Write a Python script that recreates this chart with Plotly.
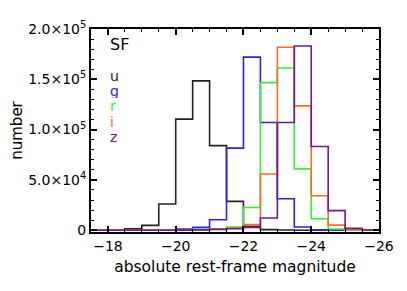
import plotly.graph_objects as go

# bin edges (absolute rest-frame magnitude), 0.5 mag bins
bin_edges = [-17.5, -18.0, -18.5, -19.0, -19.5, -20.0, -20.5, -21.0, -21.5,
             -22.0, -22.5, -23.0, -23.5, -24.0, -24.5, -25.0, -25.5, -26.0]

u_counts = [0, 500, 1500, 4800, 26000, 110400, 148400, 84100, 28600,
            3800, 600, 200, 0, 0, 0, 0, 0]
g_counts = [0, 0, 0, 100, 300, 1200, 2800, 10400, 81600,
            172000, 107000, 31300, 3200, 300, 0, 0, 0]
r_counts = [0, 0, 0, 0, 100, 300, 800, 1200, 3000,
            22600, 146700, 161300, 61000, 11400, 1200, 100, 0]
i_counts = [0, 0, 0, 0, 0, 200, 500, 1000, 2200,
            5500, 55800, 181800, 123600, 34200, 5000, 500, 0]
z_counts = [0, 0, 0, 0, 0, 100, 300, 800, 1500,
            2800, 12100, 107000, 183100, 83200, 19400, 1800, 200]

bands = ["u", "g", "r", "i", "z"]
series = [u_counts, g_counts, r_counts, i_counts, z_counts]
colors = ["#222222", "#2b22e6", "#33f033", "#ff6a22", "#6a1a8a"]

y_tickvals = [0, 50000, 100000, 150000, 200000]
y_ticktext = ["0", "5.0×10<sup>4</sup>", "1.0×10<sup>5</sup>",
              "1.5×10<sup>5</sup>", "2.0×10<sup>5</sup>"]
x_tickvals = [-18, -20, -22, -24, -26]

FONT = "DejaVu Sans"

fig = go.Figure()
for band, counts, col in zip(bands, series, colors):
    fig.add_trace(go.Scatter(
        x=bin_edges, y=counts + [counts[-1]],
        mode="lines", line=dict(shape="hv", color=col, width=1.6),
        name=band, showlegend=False, hoverinfo="skip"))

# legend-like labels
fig.add_annotation(x=0.058, y=0.925, xref="paper", yref="paper", text="SF",
                   showarrow=False, xanchor="left", yanchor="middle",
                   font=dict(family=FONT, size=16, color="black"))
label_y = [0.772, 0.696, 0.621, 0.546, 0.470]
for band, col, yy in zip(bands, colors, label_y):
    fig.add_annotation(x=0.058, y=yy, xref="paper", yref="paper", text=band,
                       showarrow=False, xanchor="left", yanchor="middle",
                       height=15,
                       font=dict(family=FONT, size=14, color=col))

axis_common = dict(showline=True, linecolor="black", linewidth=2,
                   mirror="allticks", ticks="inside", tickcolor="black",
                   ticklen=6, tickwidth=1.5, showgrid=False, zeroline=False,
                   automargin=False,
                   tickfont=dict(family=FONT, size=14, color="black"))

fig.update_xaxes(range=[-17.5, -26], tickvals=x_tickvals,
                 minor=dict(ticks="inside", dtick=0.5, tick0=-18, ticklen=3,
                            tickcolor="black", tickwidth=1.2, showgrid=False),
                 title=dict(text="absolute rest-frame magnitude",
                            font=dict(family=FONT, size=15.5, color="black"),
                            standoff=8),
                 **axis_common)
fig.update_yaxes(range=[-1800, 200000], tickvals=y_tickvals, ticktext=y_ticktext,
                 minor=dict(ticks="inside", dtick=10000, tick0=0, ticklen=3,
                            tickcolor="black", tickwidth=1.2, showgrid=False),
                 title=dict(text="number",
                            font=dict(family=FONT, size=15, color="black"),
                            standoff=12),
                 **axis_common)

# page body has an 8px margin, so the figure is sized to fit the 407x291 window
fig.update_layout(width=399, height=283,
                  margin=dict(l=83, r=28, t=21, b=59),
                  paper_bgcolor="white", plot_bgcolor="white",
                  font=dict(family=FONT, color="black"))

fig.write_html("out.html")
